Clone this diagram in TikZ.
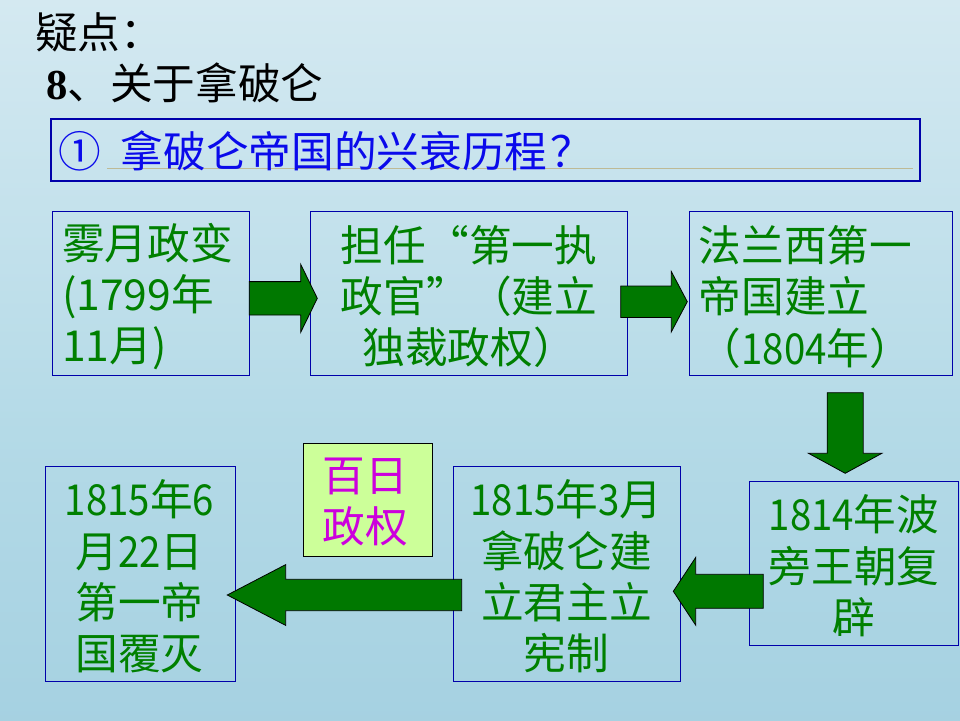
\documentclass[tikz,border=0pt]{standalone}
\usepackage{fontspec}
\setmainfont{Noto Sans CJK SC}
\newfontfamily\serifbold{Liberation Serif}[BoldFont={Liberation Serif Bold}]
% slightly narrower figures for the dates
\newfontfamily\narrowfig{Noto Sans CJK SC}[FakeStretch=0.9]
\newcommand{\yr}[1]{{\narrowfig #1}}

\definecolor{boxblue}{RGB}{0,0,170}
\definecolor{titleblue}{RGB}{10,10,235}
\definecolor{textgreen}{RGB}{0,128,0}
\definecolor{arrowgreen}{RGB}{0,120,0}
\definecolor{notefill}{RGB}{204,255,153}
\definecolor{notetext}{RGB}{204,0,221}
\definecolor{ruletan}{RGB}{190,186,150}
\definecolor{bgtop}{RGB}{236,245,250}
\definecolor{bgupper}{RGB}{212,233,241}
\definecolor{bgmid}{RGB}{180,218,231}
\definecolor{bglow}{RGB}{162,207,224}
\definecolor{bgbottom}{RGB}{190,223,234}

% slide background, light at the top and bluer towards the bottom
\pgfdeclareverticalshading{slidebg}{100bp}{color(0bp)=(bgbottom); color(20bp)=(bglow); color(45bp)=(bgmid); color(75bp)=(bgupper); color(100bp)=(bgtop)}

\tikzset{
  bigfont/.style={font=\fontsize{42.67}{51.2}\selectfont},
  stagebox/.style={draw=boxblue, line width=1pt, inner sep=0pt, anchor=north west},
  stagetext/.style={bigfont, text=textgreen, inner sep=0pt},
  blockarrow/.style={fill=arrowgreen, draw=black, line width=0.8pt, line join=miter},
}

% horizontal block arrow: tail x, head base x, tip x, axis y, half body, half head
\newcommand{\hblockarrow}[6]{%
  \filldraw[blockarrow] (#1,#4-#5) -- (#2,#4-#5) -- (#2,#4-#6) -- (#3,#4)
    -- (#2,#4+#6) -- (#2,#4+#5) -- (#1,#4+#5) -- cycle;}
% vertical block arrow: tail y, head base y, tip y, axis x, half body, half head
\newcommand{\vblockarrow}[6]{%
  \filldraw[blockarrow] (#4-#5,#1) -- (#4-#5,#2) -- (#4-#6,#2) -- (#4,#3)
    -- (#4+#6,#2) -- (#4+#5,#2) -- (#4+#5,#1) -- cycle;}

\begin{document}
\begin{tikzpicture}[x=1pt, y=-1pt]
  \useasboundingbox (0,0) rectangle (960,720);
  \shade[shading=slidebg] (0,0) rectangle (960,720);

  % headings
  \node[bigfont, anchor=west, inner sep=0pt] (h1) at (35,32.5) {疑点：};
  \node[bigfont, anchor=west, inner sep=0pt] (h2) at (46,82.5) {{\serifbold\bfseries 8}、关于拿破仑};

  % question bar
  \node[draw=boxblue, line width=2pt, minimum width=869pt, minimum height=61.7pt,
        anchor=north west, inner sep=0pt] (Ti) at (50,118.3) {};
  \draw[ruletan, line width=1.5pt] (107,168.3) -- (912.7,168.3);
  \node[bigfont, text=titleblue, anchor=west, inner sep=0pt] (Tt) at (58,151)
    {①\hspace{20pt}拿破仑帝国的兴衰历程\hspace{3pt}？};

  % stage boxes
  \node[stagebox, minimum width=197.3pt, minimum height=164pt] (A) at (52,211) {};
  \node[stagebox, minimum width=317pt, minimum height=164pt] (B) at (310.3,211) {};
  \node[stagebox, minimum width=263.6pt, minimum height=164pt] (C) at (688.7,211) {};
  \node[stagebox, minimum width=209.3pt, minimum height=164pt] (D) at (748.7,481) {};
  \node[stagebox, minimum width=227pt, minimum height=214.7pt] (E) at (453.3,466.3) {};
  \node[stagebox, minimum width=189.4pt, minimum height=214.7pt] (F) at (45.3,466.3) {};
  \node[draw=black, fill=notefill, line width=1pt, minimum width=129pt, minimum height=112.7pt,
        anchor=north west, inner sep=0pt] (H) at (302.7,443.3) {};

  % box texts
  \node[stagetext, align=left, anchor=west] (At) at (62,296.5) {雾月政变\\(1799年\\11月)};
  \node[stagetext, align=center] (Bt) at (469,296.5) {担任“第一执\\政官”（建立\\独裁政权）};
  \node[stagetext, align=left, anchor=west] (Ct) at (698.5,297) {法兰西第一\\帝国建立\\（\yr{1804}年）};
  \node[stagetext, align=center] (Dt) at (854,565.8) {\yr{1814}年波\\旁王朝复\\辟};
  \node[stagetext, align=center] (Et) at (566.5,576.3) {\yr{1815}年\yr{3}月\\拿破仑建\\立君主立\\宪制};
  \node[stagetext, align=center] (Ft) at (139.5,576.5) {\yr{1815}年\yr{6}\\月\yr{22}日\\第一帝\\国覆灭};
  \node[stagetext, text=notetext, align=center] (Ht) at (365,502.3) {百日\\政权};

  % flow arrows
  \hblockarrow{249.3}{300.7}{317.3}{298.3}{16.7}{34}
  \hblockarrow{620.7}{671.3}{687.3}{301.7}{15.7}{30.2}
  \vblockarrow{392.7}{453.3}{473.3}{845.2}{18}{36.7}
  \hblockarrow{763.3}{695.7}{673.3}{591.3}{17}{33.9}
  \hblockarrow{461.7}{285.7}{227.3}{595}{15.7}{30.4}
\end{tikzpicture}
\end{document}
